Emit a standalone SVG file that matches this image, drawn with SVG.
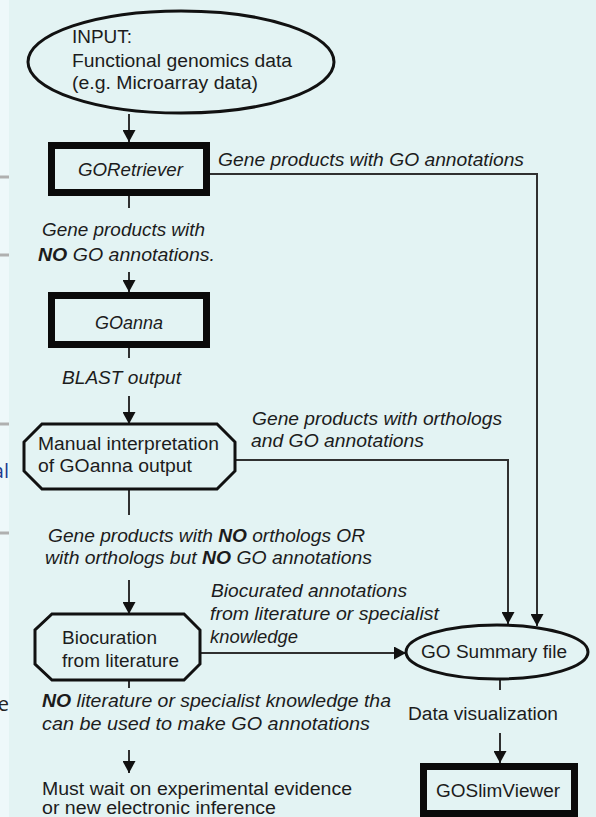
<svg xmlns="http://www.w3.org/2000/svg" width="596" height="817" viewBox="0 0 596 817">
<defs>
<style>
.t{font-family:"Liberation Sans",Arial,sans-serif;font-size:18px;fill:#1c1c1c}
.i{font-style:italic}
.b{font-weight:bold}
.c{stroke:#303030;stroke-width:2;fill:none}
.thick{fill:none;stroke:#0a0a0a;stroke-width:7}
.shape{fill:none;stroke:#111;stroke-width:3}
.edge{fill:none;stroke:#b0b0b0;stroke-width:3}
</style>
<marker id="ah" markerUnits="userSpaceOnUse" markerWidth="12" markerHeight="13" viewBox="0 0 12 13" refX="12" refY="6.5" orient="auto">
<path d="M0,0 L12,6.5 L0,13 z" fill="#111"/>
</marker>
</defs>
<rect x="0" y="0" width="596" height="817" fill="#e3f3f3"/>
<rect x="0" y="0" width="9" height="817" fill="#eef8fa"/>
<g id="page-edge">
<line class="edge" x1="0" y1="177" x2="9" y2="177"/>
<line class="edge" x1="0" y1="255" x2="9" y2="255"/>
<line class="edge" x1="0" y1="424" x2="9" y2="424"/>
<line class="edge" x1="0" y1="533" x2="9" y2="533"/>
<text x="9" y="478" text-anchor="end" style="font-family:'Open Sans',sans-serif;font-size:20px;fill:#1f3a8f">al</text>
<text x="9" y="711" text-anchor="end" style="font-family:'Open Sans',sans-serif;font-size:20px;fill:#222">e</text>
</g>

<g id="connectors">
<line class="c" x1="129" y1="114" x2="129" y2="142" marker-end="url(#ah)"/>
<line class="c" x1="129" y1="196" x2="129" y2="208"/>
<line class="c" x1="129" y1="272" x2="129" y2="292" marker-end="url(#ah)"/>
<line class="c" x1="129" y1="348" x2="129" y2="358"/>
<line class="c" x1="129" y1="396" x2="129" y2="424" marker-end="url(#ah)"/>
<line class="c" x1="129" y1="489" x2="129" y2="515"/>
<line class="c" x1="129" y1="580" x2="129" y2="614" marker-end="url(#ah)"/>
<line class="c" x1="129" y1="680" x2="129" y2="688"/>
<line class="c" x1="129" y1="750" x2="129" y2="773" marker-end="url(#ah)"/>
<polyline class="c" points="210,174 537,174 537,626" marker-end="url(#ah)"/>
<polyline class="c" points="235,460 508,460 508,624" marker-end="url(#ah)"/>
<line class="c" x1="200" y1="653" x2="406" y2="653" marker-end="url(#ah)"/>
<line class="c" x1="500" y1="679" x2="500" y2="690"/>
<line class="c" x1="500" y1="733" x2="500" y2="763" marker-end="url(#ah)"/>
<text class="t i" x="218" y="166" textLength="306" lengthAdjust="spacingAndGlyphs">Gene products with GO annotations</text>
<text class="t i" x="42" y="236" textLength="163" lengthAdjust="spacingAndGlyphs">Gene products with</text>
<text class="t i" x="38" y="261" textLength="177" lengthAdjust="spacingAndGlyphs"><tspan class="b">NO</tspan> GO annotations.</text>
<text class="t i" x="62" y="384" textLength="119" lengthAdjust="spacingAndGlyphs">BLAST output</text>
<text class="t i" x="252" y="425" textLength="250" lengthAdjust="spacingAndGlyphs">Gene products with orthologs</text>
<text class="t i" x="251" y="447" textLength="173" lengthAdjust="spacingAndGlyphs">and GO annotations</text>
<text class="t i" x="48" y="542" textLength="317" lengthAdjust="spacingAndGlyphs">Gene products with <tspan class="b">NO</tspan> orthologs OR</text>
<text class="t i" x="45" y="564" textLength="327" lengthAdjust="spacingAndGlyphs">with orthologs but <tspan class="b">NO</tspan> GO annotations</text>
<text class="t i" x="211" y="597" textLength="196" lengthAdjust="spacingAndGlyphs">Biocurated annotations</text>
<text class="t i" x="210" y="620" textLength="229" lengthAdjust="spacingAndGlyphs">from literature or specialist</text>
<text class="t i" x="210" y="643" textLength="88" lengthAdjust="spacingAndGlyphs">knowledge</text>
<text class="t i" x="42" y="707" textLength="349" lengthAdjust="spacingAndGlyphs"><tspan class="b">NO</tspan> literature or specialist knowledge tha</text>
<text class="t i" x="42" y="730" textLength="328" lengthAdjust="spacingAndGlyphs">can be used to make GO annotations</text>
<text class="t" x="408" y="720" textLength="150" lengthAdjust="spacingAndGlyphs">Data visualization</text>
<text class="t" x="42" y="795" textLength="310" lengthAdjust="spacingAndGlyphs">Must wait on experimental evidence</text>
<text class="t" x="42" y="814" textLength="234" lengthAdjust="spacingAndGlyphs">or new electronic inference</text>
</g>

<g id="input">
<ellipse class="shape" cx="181" cy="62" rx="153" ry="51"/>
<text class="t" x="72" y="43" textLength="60" lengthAdjust="spacingAndGlyphs">INPUT:</text>
<text class="t" x="72" y="67" textLength="220" lengthAdjust="spacingAndGlyphs">Functional genomics data</text>
<text class="t" x="72" y="89" textLength="186" lengthAdjust="spacingAndGlyphs">(e.g. Microarray data)</text>
</g>

<g id="goretriever">
<rect class="thick" x="51.5" y="145.5" width="155" height="47"/>
<text class="t i" x="78" y="176" textLength="105" lengthAdjust="spacingAndGlyphs">GORetriever</text>
</g>

<g id="goanna">
<rect class="thick" x="51.5" y="295.5" width="155" height="49"/>
<text class="t i" x="95" y="329" textLength="68" lengthAdjust="spacingAndGlyphs">GOanna</text>
</g>

<g id="manual">
<polygon class="shape" points="42,424 217,424 235,442 235,471 217,489 42,489 24,471 24,442"/>
<text class="t" x="38" y="450" textLength="181" lengthAdjust="spacingAndGlyphs">Manual interpretation</text>
<text class="t" x="38" y="472" textLength="154" lengthAdjust="spacingAndGlyphs">of GOanna output</text>
</g>

<g id="biocuration">
<polygon class="shape" points="52,614 184,614 200,630 200,664 184,680 52,680 35,664 35,630"/>
<text class="t" x="62" y="644" textLength="95" lengthAdjust="spacingAndGlyphs">Biocuration</text>
<text class="t" x="62" y="667" textLength="117" lengthAdjust="spacingAndGlyphs">from literature</text>
</g>

<g id="gosummary">
<ellipse class="shape" cx="497" cy="652" rx="91" ry="27"/>
<text class="t" x="421" y="658" textLength="146" lengthAdjust="spacingAndGlyphs">GO Summary file</text>
</g>

<g id="goslimviewer">
<rect class="thick" x="423.5" y="766.5" width="151" height="47"/>
<text class="t" x="436" y="797" textLength="124" lengthAdjust="spacingAndGlyphs">GOSlimViewer</text>
</g>
</svg>
